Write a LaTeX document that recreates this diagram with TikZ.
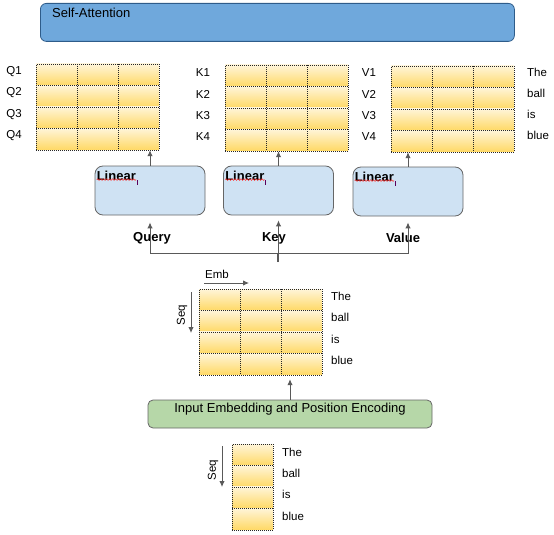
\documentclass[tikz,border=0pt]{standalone}
\usepackage{fontspec}
\setmainfont{Liberation Sans}
\usetikzlibrary{decorations.pathmorphing,arrows.meta}
\definecolor{attfill}{HTML}{6FA8DC}
\definecolor{attline}{HTML}{2E5C8A}
\definecolor{linfill}{HTML}{CFE2F3}
\definecolor{boxline}{HTML}{666666}
\definecolor{embfill}{HTML}{B6D7A8}
\definecolor{celltop}{HTML}{FFF5D9}
\definecolor{cellbot}{HTML}{FFD966}
\definecolor{arrowgray}{HTML}{595959}
\begin{document}
\begin{tikzpicture}[x=1pt,y=-1pt,>={Latex[length=6pt,width=5.5pt]},
  lbl/.style={font=\fontsize{11.5}{13}\selectfont,inner sep=0pt},
  big/.style={font=\fontsize{13}{15}\selectfont,inner sep=0pt},
  bigb/.style={font=\fontsize{13}{15}\selectfont\bfseries,inner sep=0pt},
  cell/.style={top color=celltop,bottom color=cellbot},
  dotline/.style={draw=black!85,line width=0.6pt,dash pattern=on 0.6pt off 1.4pt},
  flow/.style={->,draw=arrowgray,line width=1pt},
  linbox/.style={draw=boxline,fill=linfill,rounded corners=8pt,line width=0.8pt,
    minimum width=110pt,minimum height=49pt}]
        \useasboundingbox (0,0) rectangle (554,535);
        %Self-Attention
        \node[draw=attline,fill=attfill,rounded corners=6pt,line width=0.8pt,anchor=north west,
          minimum width=474pt,minimum height=38pt] (att) at (40,3) {};
        \node[big,anchor=west] (attl) at (52,13) {Self-Attention};
        %矩阵
        \foreach \n/\x/\y/\c in {Q/36/64/3,K/225/65/3,V/391/66/3,E/199/289/3,I/232/444/1}{
        \foreach \i in {0,...,3}
          \foreach \j in {1,...,\c}
            \shade[cell] (\x+\j*41-41,\y+\i*21.4) rectangle +(41,21.4);
        \foreach \i in {1,2,3}
          \draw[dotline] (\x,\y+\i*21.4) -- +(\c*41,0);
        \node[dotline,anchor=north west,inner sep=0pt,minimum width=\c*41pt,minimum height=85.6pt] (\n) at (\x,\y) {};
        }
        \foreach \x/\y in {36/64,225/65,391/66,199/289}
          \foreach \j in {1,2}
            \draw[dotline] (\x+\j*41,\y) -- +(0,85.6);
        %标签
        \foreach \t [count=\i] in {Q1,Q2,Q3,Q4}
          \node[lbl] (q\i) at (14,50.6+21.2*\i) {\t};
        \foreach \t [count=\i] in {K1,K2,K3,K4}
          \node[lbl] (k\i) at (203,51.6+21.2*\i) {\t};
        \foreach \t [count=\i] in {V1,V2,V3,V4}
          \node[lbl] (v\i) at (369,51.6+21.2*\i) {\t};
        \foreach \t [count=\i] in {The,ball,is,blue}{
          \node[lbl,anchor=west] (w\i) at (527,50.6+21.3*\i) {\t};
          \node[lbl,anchor=west] (e\i) at (331,274.5+21.5*\i) {\t};
          \node[lbl,anchor=west] (s\i) at (282,430.7+21.3*\i) {\t};
        }
        %Linear
        \foreach \n/\x/\y in {ql/150/190.5,kl/278.5/190.5,vl/408/191.5}{
          \node[linbox] (\n) at (\x,\y) {};
          \node[bigb,anchor=north west] (\n-t) at ([xshift=2pt,yshift=-5pt]\n.north west) {Linear};
          \draw[red!80,line width=0.5pt,decorate,decoration={snake,amplitude=0.9pt,segment length=3pt}]
            ([yshift=1pt]\n-t.south west) -- ([yshift=1pt]\n-t.south east);
          \draw[line width=0.8pt,violet!70!black] ([xshift=1pt]\n-t.base east) -- +(0,5);
        }
        \foreach \n/\m in {ql/Q,kl/K,vl/V}
          \draw[flow] (\n.north) -- (\n.north |- \m.south);
        \node[bigb] (qq) at (152,238) {Query};
        \node[bigb] (kk) at (274,238) {Key};
        \node[bigb] (vv) at (403,238) {Value};
        \coordinate (fork) at (277,262);
        \coordinate (bus) at (277,253);
        \draw[arrowgray,line width=1pt] (fork) -- (bus);
        \draw[flow,shorten >=7pt] (bus) -| (ql.south);
        \draw[flow,shorten >=6pt] (bus) -| (vl.south);
        \draw[flow,shorten >=5pt] (fork -| kl.south) -- (kl.south);
        %输入部分
        \coordinate (emb0) at (204,283);
        \coordinate (emb1) at (249,283);
        \draw[flow] (emb0) -- (emb1);
        \node[lbl,anchor=south west] (embl) at (205,279) {Emb};
        \coordinate (seq0) at (191,292);
        \coordinate (seq1) at (191,333);
        \draw[flow] (seq0) -- (seq1);
        \node[lbl,rotate=90] (seql) at (182,315) {Seq};
        \coordinate (seq2) at (222,446);
        \coordinate (seq3) at (222,487);
        \draw[flow] (seq2) -- (seq3);
        \node[lbl,rotate=90] (seqm) at (213,470) {Seq};
        \node[draw=boxline,fill=embfill,rounded corners=5pt,line width=0.8pt,
          minimum width=284pt,minimum height=28pt] (ipe) at (290,414) {};
        \node[big] (ipel) at (290,409.5) {Input Embedding and Position Encoding};
        \draw[flow,shorten >=4pt] (ipe.north) -- (ipe.north |- E.south);
    \end{tikzpicture}
\end{document}
